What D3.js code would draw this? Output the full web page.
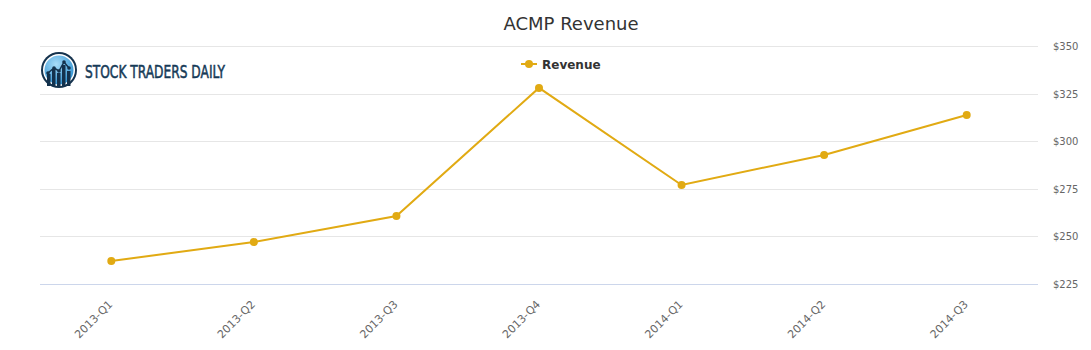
<!DOCTYPE html>
<html><head><meta charset="utf-8">
<script src="https://cdn.jsdelivr.net/npm/d3@7"></script>
<style>body{margin:0;background:#fff;} svg{display:block;font-family:"DejaVu Sans",sans-serif;}</style>
</head><body>
<svg id="c" width="1091" height="350"></svg>
<script>
const categories = ["2013-Q1","2013-Q2","2013-Q3","2013-Q4","2014-Q1","2014-Q2","2014-Q3"];
const revenue = [237.1, 247.0, 260.7, 328.0, 277.0, 292.8, 313.8];
const yTicks = [225, 250, 275, 300, 325, 350];
const seriesName = "Revenue";
const title = "ACMP Revenue";

(function () {
const svg = d3.select("#c");
const pLeft = 40, pRight = 1038, pTop = 46, pBottom = 284;
const color = "#e1aa13";

const x = d3.scaleBand().domain(categories).range([pLeft, pRight]);
const y = d3.scaleLinear().domain([225, 350]).range([pBottom, pTop]);

// gridlines
svg.append("g").selectAll("line").data(yTicks.filter(t => t !== 225)).join("line")
  .attr("x1", pLeft).attr("x2", pRight)
  .attr("y1", d => Math.round(y(d)) + 0.5).attr("y2", d => Math.round(y(d)) + 0.5)
  .attr("stroke", "#e6e6e6").attr("stroke-width", 1);

// x axis line
svg.append("line").attr("x1", pLeft).attr("x2", pRight)
  .attr("y1", Math.round(y(225)) + 0.5).attr("y2", Math.round(y(225)) + 0.5)
  .attr("stroke", "#ccd6eb");

// y axis labels (right)
const yAxis = d3.axisRight(y).tickValues(yTicks).tickSize(0).tickPadding(0)
  .tickFormat(d => "$" + d);
const ya = svg.append("g").attr("transform", `translate(1053,0)`).call(yAxis);
ya.select(".domain").remove();
ya.selectAll("text").attr("fill", "#666").style("font-size", "10px")
  .style("font-family", "DejaVu Sans, sans-serif").attr("dy", "0.35em");

// x axis labels
const xAxis = d3.axisBottom(x).tickSize(0).tickPadding(0);
const xa = svg.append("g").attr("transform", `translate(0,${pBottom})`).call(xAxis);
xa.select(".domain").remove();
xa.selectAll("text")
  .attr("fill", "#666").style("font-size", "11px")
  .style("font-family", "DejaVu Sans, sans-serif")
  .attr("text-anchor", "end")
  .attr("y", 0).attr("dy", 0)
  .attr("transform", "translate(2,21) rotate(-45)");

// line
const line = d3.line().x((d, i) => x(categories[i]) + x.bandwidth() / 2).y(d => y(d));
svg.append("path").datum(revenue).attr("d", line)
  .attr("fill", "none").attr("stroke", color).attr("stroke-width", 2);
svg.append("g").selectAll("circle").data(revenue).join("circle")
  .attr("cx", (d, i) => x(categories[i]) + x.bandwidth() / 2)
  .attr("cy", d => y(d)).attr("r", 4).attr("fill", color);

// title
svg.append("text").attr("x", 571).attr("y", 30).attr("text-anchor", "middle")
  .attr("fill", "#333").style("font-size", "18px").text(title);

// legend
const lg = svg.append("g").attr("transform", "translate(521,64)");
lg.append("line").attr("x1", 0).attr("x2", 16).attr("y1", 0).attr("y2", 0)
  .attr("stroke", color).attr("stroke-width", 2);
lg.append("circle").attr("cx", 8).attr("cy", 0).attr("r", 4).attr("fill", color);
lg.append("text").attr("x", 21).attr("y", 4.5).attr("fill", "#333")
  .style("font-size", "12px").style("font-weight", "bold").text(seriesName);

// logo
const logo = svg.append("g").attr("transform", "translate(59,70)");
const grad = svg.append("defs").append("radialGradient").attr("id", "lg")
  .attr("cx", "40%").attr("cy", "30%").attr("r", "75%");
grad.append("stop").attr("offset", "0%").attr("stop-color", "#a8dcf8");
grad.append("stop").attr("offset", "100%").attr("stop-color", "#2a8fd0");
logo.append("circle").attr("r", 18).attr("fill", "#14324d");
logo.append("circle").attr("r", 16).attr("fill", "#fff");
logo.append("circle").attr("r", 14.5).attr("fill", "url(#lg)");
const bars = [[-12, 4], [-7, -1], [-2, 3], [3, -5], [8, 1]];
bars.forEach(b => logo.append("rect").attr("x", b[0]).attr("y", b[1]).attr("width", 3.5)
  .attr("height", 16 - b[1]).attr("fill", "#14324d"));
logo.append("path").attr("d", "M-11,3 L-5,-2 L0,1 L5,-8 L10,-2").attr("fill", "none")
  .attr("stroke", "#14324d").attr("stroke-width", 1.5);
[[-11,3],[-5,-2],[0,1],[5,-8],[10,-2]].forEach(p => logo.append("circle")
  .attr("cx", p[0]).attr("cy", p[1]).attr("r", 1.8).attr("fill", "#14324d"));
svg.append("text").attr("x", 85).attr("y", 78).attr("fill", "#163a57")
  .attr("stroke", "#163a57").attr("stroke-width", 0.5)
  .style("font-family", "DejaVu Sans Condensed, Liberation Sans Narrow, sans-serif")
  .style("font-size", "17.5px").attr("textLength", 140).attr("lengthAdjust", "spacingAndGlyphs")
  .text("STOCK TRADERS DAILY");
})();
</script>
</body></html>
